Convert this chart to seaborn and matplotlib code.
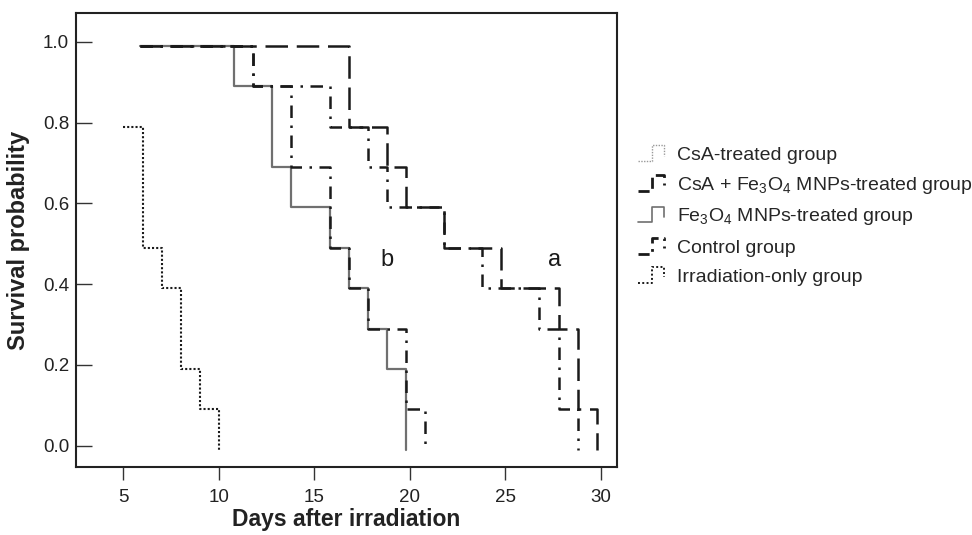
import numpy as np
import matplotlib
matplotlib.use("Agg")
import matplotlib.pyplot as plt
import seaborn as sns
from matplotlib.lines import Line2D
from matplotlib.legend_handler import HandlerBase

# step start times (days) and survival level from that day on
csa_days = [5.85, 11.8, 13.8, 15.8, 16.8, 17.8, 19.8, 20.8]
csa_surv = [0.99, 0.89, 0.69, 0.49, 0.39, 0.29, 0.09, -0.01]

combo_days = [5.85, 16.8, 18.8, 19.8, 21.8, 24.8, 27.8, 28.8, 29.8]
combo_surv = [0.99, 0.79, 0.69, 0.59, 0.49, 0.39, 0.29, 0.09, -0.01]

fe_days = [5.85, 10.8, 12.8, 13.8, 15.8, 16.8, 17.8, 18.8, 19.8]
fe_surv = [0.99, 0.89, 0.69, 0.59, 0.49, 0.39, 0.29, 0.19, -0.01]

ctrl_days = [5.85, 11.8, 15.8, 17.8, 18.8, 21.8, 23.8, 26.8, 27.8, 28.8]
ctrl_surv = [0.99, 0.89, 0.79, 0.69, 0.59, 0.49, 0.39, 0.29, 0.09, -0.01]

irr_days = [5, 6, 7, 8, 9, 10]
irr_surv = [0.79, 0.49, 0.39, 0.19, 0.09, -0.01]

labels = ["CsA-treated group",
          "CsA + Fe$_3$O$_4$ MNPs-treated group",
          "Fe$_3$O$_4$ MNPs-treated group",
          "Control group",
          "Irradiation-only group"]

sns.set_style("ticks")
plt.rcParams["font.family"] = ["Liberation Sans", "DejaVu Sans"]
plt.rcParams["mathtext.fontset"] = "custom"
plt.rcParams["mathtext.rm"] = "Liberation Sans"
plt.rcParams["mathtext.it"] = "Liberation Sans:italic"

fig = plt.figure(figsize=(9.72, 5.35), dpi=100)
ax = fig.add_axes([0.0779, 0.1266, 0.5566, 0.8497])

black = "#1a1a1a"
gray = "#707070"

# Fe3O4 (solid gray) drawn first so the black lines sit on top
sns.lineplot(x=fe_days, y=fe_surv, ax=ax, color=gray, lw=1.6,
             drawstyle="steps-post", estimator=None, sort=False)
sns.lineplot(x=csa_days, y=csa_surv, ax=ax, color=black, lw=1.8,
             drawstyle="steps-post", estimator=None, sort=False,
             linestyle=(0, (5, 3, 1, 3)))
sns.lineplot(x=ctrl_days, y=ctrl_surv, ax=ax, color=black, lw=1.8,
             drawstyle="steps-post", estimator=None, sort=False,
             linestyle=(0, (5, 3, 1, 3)))
sns.lineplot(x=combo_days, y=combo_surv, ax=ax, color=black, lw=1.8,
             drawstyle="steps-post", estimator=None, sort=False,
             linestyle=(0, (9, 3.5)))
sns.lineplot(x=irr_days, y=irr_surv, ax=ax, color=black, lw=1.5,
             drawstyle="steps-post", estimator=None, sort=False,
             linestyle=(0, (1, 1)))

ax.text(18.8, 0.46, "b", fontsize=17, ha="center", va="center", color=black)
ax.text(27.6, 0.46, "a", fontsize=17, ha="center", va="center", color=black)

ax.set_xlim(2.5, 30.85)
ax.set_ylim(-0.0535, 1.072)
ax.set_xticks([5, 10, 15, 20, 25, 30])
ax.set_yticks([0.0, 0.2, 0.4, 0.6, 0.8, 1.0])
ax.set_yticklabels(["0.0", "0.2", "0.4", "0.6", "0.8", "1.0"])
for s in ax.spines.values():
    s.set_visible(True)
    s.set_linewidth(1.5)
    s.set_color("#222222")
ax.tick_params(axis="y", direction="in", length=11.5, width=1, color="#333333",
               labelsize=13.5, labelcolor="#222222", pad=4.8)
ax.tick_params(axis="x", direction="out", length=9, width=1, color="#333333",
               labelsize=13.5, labelcolor="#222222", pad=7)
ax.set_xlabel("Days after irradiation", fontsize=16.5, fontweight="bold",
              color="#222222", labelpad=1)
ax.set_ylabel("Survival probability", fontsize=17, fontweight="bold",
              color="#222222", labelpad=9)


class StepHandler(HandlerBase):
    # draw the legend key as a small step, like the original
    def create_artists(self, legend, orig, xd, yd, w, h, fontsize, trans):
        xs = np.array([0.0, 0.45, 0.45, 0.85, 0.85]) * w - xd
        ys = np.array([0.0, 0.0, 1.0, 1.0, 0.35]) * h - yd
        ln = Line2D(xs, ys)
        ln.update_from(orig)
        ln.set_data(xs, ys)
        ln.set_transform(trans)
        return [ln]


handles = [
    Line2D([], [], color="#999999", lw=1.0, linestyle=(0, (1, 1))),
    Line2D([], [], color=black, lw=2.0, linestyle=(0, (4, 2))),
    Line2D([], [], color=gray, lw=1.2),
    Line2D([], [], color=black, lw=2.0, linestyle=(0, (4, 2, 1, 2))),
    Line2D([], [], color=black, lw=1.4, linestyle=(0, (1, 1.2))),
]
fig.legend(handles, labels, loc="center left", bbox_to_anchor=(0.656, 0.597),
           frameon=False, fontsize=14, handlelength=1.6, handleheight=0.85,
           handletextpad=0.4, labelspacing=0.55, borderpad=0, borderaxespad=0,
           handler_map={Line2D: StepHandler()})

fig.savefig("out.png", dpi=100)
